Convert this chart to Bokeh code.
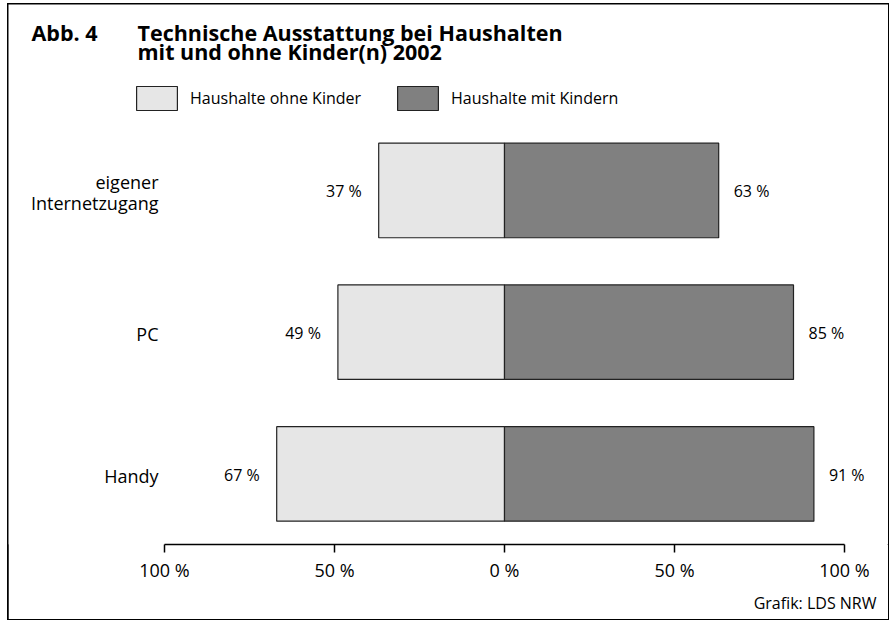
from bokeh.plotting import figure
from bokeh.models import (Range1d, ColumnDataSource, FixedTicker, Label, Title,
                          Legend, LegendItem)
from bokeh.core.properties import value
from bokeh.embed import file_html
from bokeh.resources import INLINE

# ---- data ----
categories = ["eigener\nInternetzugang", "PC", "Handy"]
ohne_kinder = [37, 49, 67]
mit_kindern = [63, 85, 91]
tick_values = [-100, -50, 0, 50, 100]
tick_labels = ["100 %", "50 %", "0 %", "50 %", "100 %"]
title_prefix = "Abb. 4"
title_lines = ["Technische Ausstattung bei Haushalten", "mit und ohne Kinder(n) 2002"]
series_names = ["Haushalte ohne Kinder", "Haushalte mit Kindern"]
source_note = "Grafik: LDS NRW"

FONT = "Open Sans"

# ---- layout constants (pixels inside the canvas) ----
W, H = 880, 615
AX_LEFT, AX_RIGHT = 156, 836        # canvas x of -100 % and +100 %
FRAME_BOTTOM = 543                   # canvas y of the axis line
ROW_STEP = 142.5                     # pixels between category rows
FIRST_ROW = 472                      # canvas y of the lowest row centre

px_per_unit = (AX_RIGHT - AX_LEFT) / 200.0
x_start = -100 - AX_LEFT / px_per_unit
x_end = 100 + (W - AX_RIGHT) / px_per_unit
y_start = -(FRAME_BOTTOM - FIRST_ROW) / ROW_STEP
y_end = FIRST_ROW / ROW_STEP

n = len(categories)
ypos = [n - 1 - i for i in range(n)]   # first category on top

src = ColumnDataSource(dict(
    cat=categories,
    y=ypos,
    ohne_left=[-v for v in ohne_kinder],
    zero=[0] * n,
    mit=mit_kindern,
    ohne_txt=[f"{v} %" for v in ohne_kinder],
    mit_txt=[f"{v} %" for v in mit_kindern],
    axis_left=[tick_values[0]] * n,
))

p = figure(width=W, height=H, output_backend="svg", toolbar_location=None, title=None,
           x_range=Range1d(x_start, x_end), y_range=Range1d(y_start, y_end),
           y_axis_location=None,
           min_border_left=0, min_border_right=0, min_border_top=0,
           min_border_bottom=H - FRAME_BOTTOM)
p.styles = {"margin-left": "8px", "margin-top": "4px", "width": f"{W}px", "height": f"{H}px",
            "outline": "2px solid #000000", "outline-offset": "-1px"}
p.outline_line_color = None
p.xgrid.visible = False
p.ygrid.visible = False
p.background_fill_color = "white"
p.border_fill_color = "white"

r_ohne = p.hbar(y="y", left="ohne_left", right="zero", height=0.667, source=src,
                fill_color="#e6e6e6", line_color="#222222", line_width=1.2)
r_mit = p.hbar(y="y", left="zero", right="mit", height=0.667, source=src,
               fill_color="#808080", line_color="#222222", line_width=1.2)

p.text(x="ohne_left", y="y", text="ohne_txt", source=src, text_align="right",
       text_baseline="middle", x_offset=-17, y_offset=1,
       text_font=value(FONT), text_font_size="16px", text_color="black")
p.text(x="mit", y="y", text="mit_txt", source=src, text_align="left",
       text_baseline="middle", x_offset=15, y_offset=1,
       text_font=value(FONT), text_font_size="16px", text_color="black")
# category labels
p.text(x="axis_left", y="y", text="cat", source=src, text_align="right",
       text_baseline="middle", x_offset=-6, y_offset=2, text_line_height=0.85,
       text_font=value(FONT), text_font_size="18px", text_color="black")

# x axis
xa = p.xaxis[0]
xa.bounds = (tick_values[0], tick_values[-1])
xa.ticker = FixedTicker(ticks=tick_values)
xa.major_label_overrides = {v: l for v, l in zip(tick_values, tick_labels)}
xa.major_tick_in = 0
xa.major_tick_out = 8
xa.minor_tick_out = 0
xa.minor_tick_in = 0
xa.axis_line_width = 1.5
xa.major_tick_line_width = 1.5
xa.axis_line_color = "black"
xa.major_tick_line_color = "black"
xa.major_label_standoff = 5
xa.major_label_text_font = FONT
xa.major_label_text_font_size = "18px"
xa.major_label_text_color = "black"

# source note below the axis
p.add_layout(Title(text=source_note, align="right", offset=12, standoff=11,
                   text_font=FONT, text_font_size="16px", text_font_style="normal",
                   text_color="black"), "below")

# frame-relative screen positions: x from canvas left, y up from the axis line
def lab(text, x, y, size, bold=False, align="left", baseline="middle"):
    p.add_layout(Label(x=x, y=y, x_units="screen", y_units="screen", text=text,
                       text_font=FONT, text_font_size=size,
                       text_font_style="bold" if bold else "normal",
                       text_align=align, text_baseline=baseline, text_color="black"))

lab(title_prefix, 23, 512, "21.5px", bold=True)
lab(title_lines[0], 129, 512, "21.5px", bold=True)
lab(title_lines[1], 129, 493, "21.5px", bold=True)

legend = Legend(items=[LegendItem(label=series_names[0], renderers=[r_ohne]),
                       LegendItem(label=series_names[1], renderers=[r_mit])],
                location=(123, 431), orientation="horizontal",
                glyph_width=51, glyph_height=30, label_height=30, label_standoff=8,
                spacing=31, padding=0, margin=0,
                border_line_color=None, background_fill_alpha=0,
                label_text_font=FONT, label_text_font_size="16px", label_text_color="black")
p.add_layout(legend)

open("out.html", "w").write(file_html(p, INLINE))
